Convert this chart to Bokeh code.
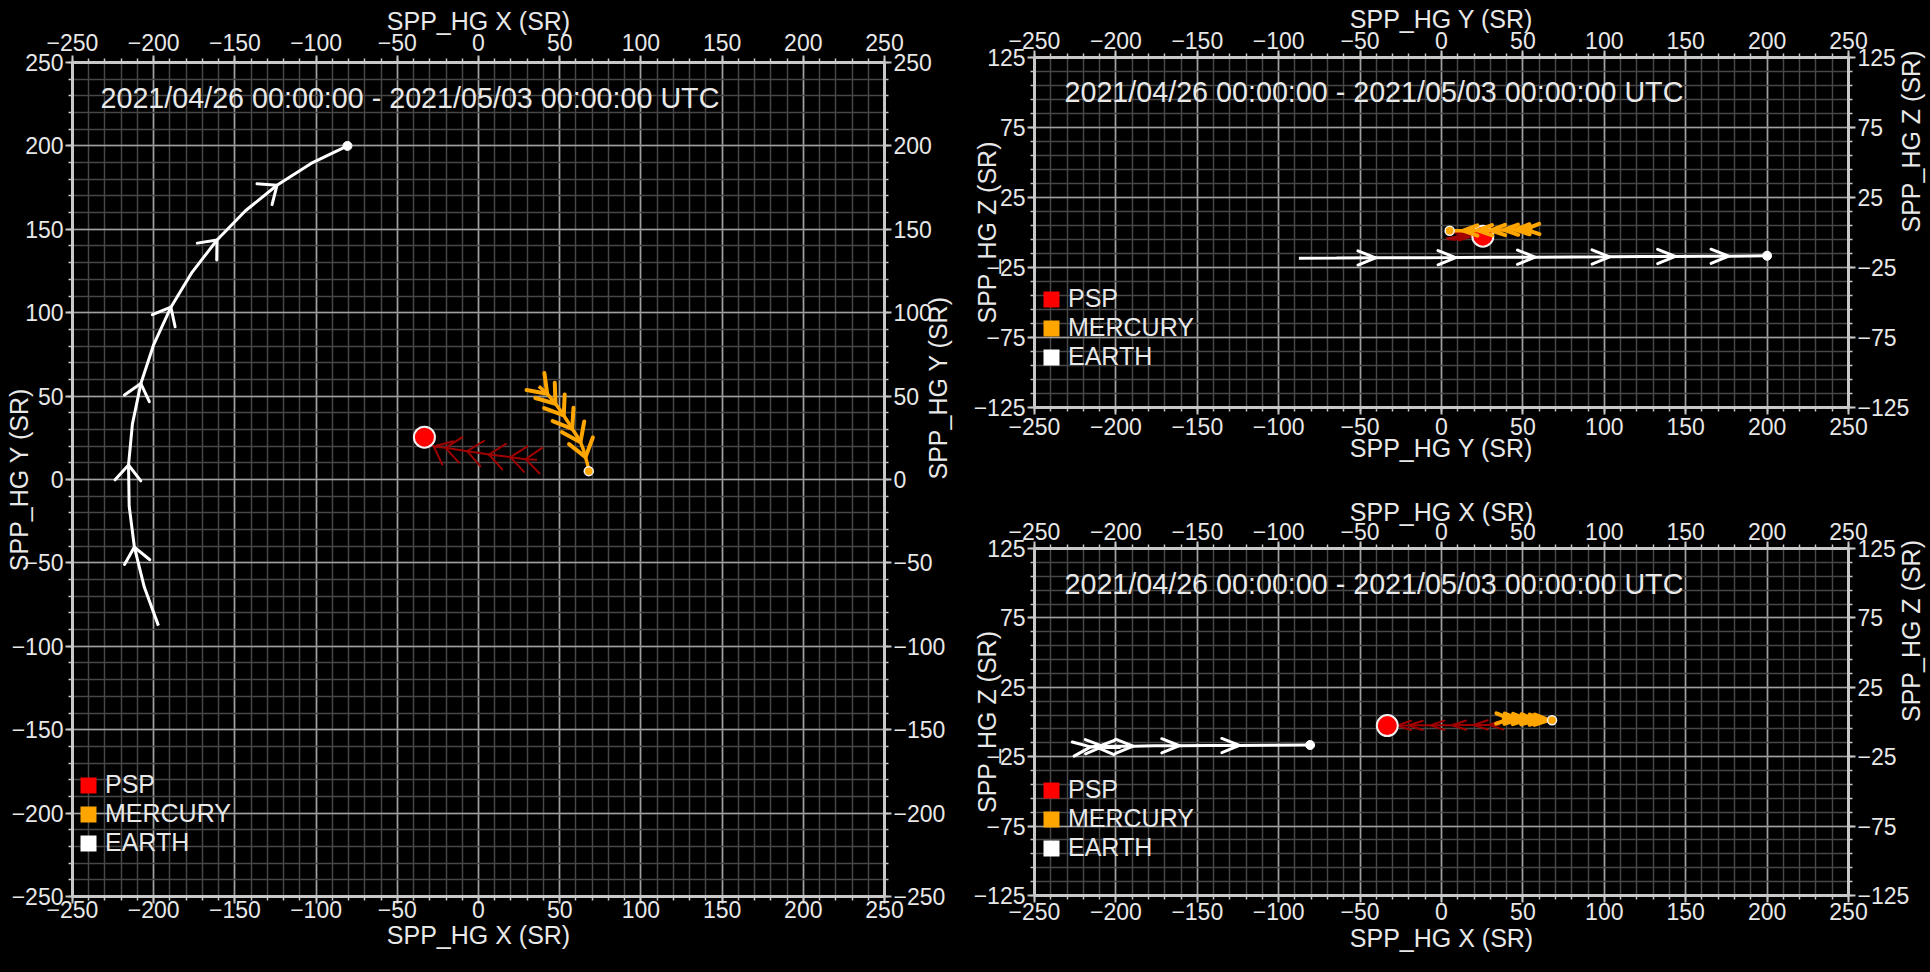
import math
from bokeh.plotting import figure
from bokeh.models import LinearAxis, FixedTicker, Label, Legend, LegendItem, Range1d
from bokeh.layouts import row, column
from bokeh.embed import file_html
from bokeh.resources import INLINE

# ---------------- data ----------------
HOURS = [0, 12, 24, 36, 48, 60, 72, 84, 96, 108, 120, 132, 144, 156, 168]

EARTH_X = [-197.1, -205.8, -211.9, -215.1, -215.5, -213.1, -207.9, -200.0,
           -189.4, -176.4, -161.0, -143.5, -124.1, -103.1, -80.7]
EARTH_Y = [-87.6, -64.5, -40.5, -16.0, 8.7, 33.3, 57.5, 80.9,
           103.3, 124.2, 143.6, 161.1, 176.4, 189.5, 200.0]
EARTH_Z = [-18.4, -18.3, -18.1, -18.0, -17.9, -17.7, -17.6, -17.5,
           -17.4, -17.2, -17.1, -17.0, -16.9, -16.7, -16.6]

PSP_X = [36.0, 32.5, 29.0, 24.4, 19.7, 13.0, 6.4, -0.3,
         -7.0, -13.7, -20.3, -24.0, -27.5, -30.6, -33.3]
PSP_Y = [11.8, 12.0, 12.2, 12.8, 13.4, 14.2, 15.0, 16.0,
         17.0, 18.0, 19.0, 19.4, 19.8, 22.4, 25.4]
PSP_Z = [-2.0, -2.0, -2.1, -2.1, -2.2, -2.2, -2.3, -2.3,
         -2.4, -2.4, -2.5, -2.5, -2.6, -2.6, -2.6]

MERCURY_X = [37.1, 39.6, 42.3, 44.8, 47.4, 50.0, 52.5, 55.1,
             57.7, 60.4, 62.8, 64.6, 65.9, 67.1, 67.9]
MERCURY_Y = [55.8, 53.8, 51.4, 48.5, 45.4, 42.0, 38.4, 34.5,
             30.4, 26.4, 22.4, 17.9, 13.4, 9.2, 5.0]
MERCURY_Z = [2.3, 2.3, 2.2, 2.1, 2.0, 1.9, 1.8, 1.7,
             1.6, 1.5, 1.5, 1.4, 1.3, 1.3, 1.2]

XY_TICKS = [-250, -200, -150, -100, -50, 0, 50, 100, 150, 200, 250]
Z_TICKS = [-125, -75, -25, 25, 75, 125]
TITLE = "2021/04/26 00:00:00 - 2021/05/03 00:00:00 UTC"
LEGEND_LABELS = ["PSP", "MERCURY", "EARTH"]
LEGEND_COLORS = ["#ff0000", "#ffa500", "#ffffff"]

BODIES = {
    "EARTH": {"X": EARTH_X, "Y": EARTH_Y, "Z": EARTH_Z},
    "PSP": {"X": PSP_X, "Y": PSP_Y, "Z": PSP_Z},
    "MERCURY": {"X": MERCURY_X, "Y": MERCURY_Y, "Z": MERCURY_Z},
}

# ---------------- style ----------------
FONT = "Liberation Sans"
TXT = "#e8e8e8"
AXC = "#c8c8c8"
PSP_TRACK = "#a00000"
NAN = float("nan")
ARROW_IDX = [i for i, h in enumerate(HOURS) if h % 24 == 0 and 0 < h < HOURS[-1]]


def chevrons(xs, ys, sx, sy, arm, half_deg):
    h = math.radians(half_deg)
    mx, my = [], []
    for i in ARROW_IDX:
        dx = (xs[i + 1] - xs[i - 1]) * sx
        dy = (ys[i + 1] - ys[i - 1]) * sy
        n = math.hypot(dx, dy)
        if n == 0:
            continue
        bx, by = -dx / n, -dy / n
        pts = []
        for a in (h, -h):
            c, s = math.cos(a), math.sin(a)
            ax_ = (bx * c - by * s) * arm
            ay_ = (bx * s + by * c) * arm
            pts.append((xs[i] + ax_ / sx, ys[i] + ay_ / sy))
        mx.append([pts[0][0], xs[i], pts[1][0]])
        my.append([pts[0][1], ys[i], pts[1][1]])
    return mx, my


def style_axis(ax, ticker, tick_standoff, label, label_standoff, orient=None):
    ax.ticker = ticker
    ax.axis_label = label
    ax.axis_label_text_font = FONT
    ax.axis_label_text_font_size = "25px"
    ax.axis_label_text_font_style = "normal"
    ax.axis_label_text_color = TXT
    ax.axis_label_standoff = label_standoff
    if orient is not None:
        ax.axis_label_orientation = orient
    ax.major_label_text_font = FONT
    ax.major_label_text_font_size = "23px"
    ax.major_label_text_color = TXT
    ax.major_label_standoff = tick_standoff
    ax.axis_line_color = AXC
    ax.axis_line_width = 3
    ax.major_tick_line_color = AXC
    ax.major_tick_line_width = 2
    ax.major_tick_out = 7
    ax.major_tick_in = 0
    ax.minor_tick_line_color = AXC
    ax.minor_tick_line_width = 1.5
    ax.minor_tick_out = 4
    ax.minor_tick_in = 0


def make_panel(xk, yk, xlabel, ylabel, yr, yticks, fw, fh, borders, title_off,
               legend_loc, chev, standoffs, label_standoffs):
    bl, br, bt, bb = borders
    p = figure(frame_width=fw, frame_height=fh,
               x_range=Range1d(-250, 250), y_range=Range1d(*yr),
               output_backend="svg", toolbar_location=None,
               background_fill_color="black", border_fill_color="black",
               outline_line_color=None,
               min_border_left=bl, min_border_right=br,
               min_border_top=bt, min_border_bottom=bb)
    sx = fw / 500.0
    sy = fh / float(yr[1] - yr[0])

    xt = FixedTicker(ticks=XY_TICKS, minor_ticks=list(range(-250, 251, 10)))
    yt = FixedTicker(ticks=yticks, minor_ticks=list(range(yr[0], yr[1] + 1, 10)))

    p.xgrid.ticker = xt
    p.ygrid.ticker = yt
    for g in (p.xgrid[0], p.ygrid[0]):
        g.grid_line_color = "#a0a0a0"
        g.grid_line_width = 1.6
        g.minor_grid_line_color = "#474747"
        g.minor_grid_line_width = 1.5

    lt, rt, at, bt_ = standoffs
    ls_l, ls_r, ls_a, ls_b = label_standoffs
    style_axis(p.xaxis[0], xt, bt_, xlabel, ls_b)
    style_axis(p.yaxis[0], yt, lt, ylabel, ls_l)
    top_ax = LinearAxis()
    style_axis(top_ax, xt, at, xlabel, ls_a)
    p.add_layout(top_ax, "above")
    right_ax = LinearAxis()
    style_axis(right_ax, yt, rt, ylabel, ls_r, orient=math.pi / 2)
    p.add_layout(right_ax, "right")

    (e_arm, e_half), (p_arm, p_half), (m_arm, m_half) = chev

    ex, ey = BODIES["EARTH"][xk], BODIES["EARTH"][yk]
    p.line(ex, ey, line_color="white", line_width=3)
    cx, cy = chevrons(ex, ey, sx, sy, e_arm, e_half)
    p.multi_line(cx, cy, line_color="white", line_width=3, line_cap="round", line_join="round")
    p.scatter([ex[-1]], [ey[-1]], size=9, fill_color="white", line_color="white")

    px, py = BODIES["PSP"][xk], BODIES["PSP"][yk]
    p.line(px, py, line_color=PSP_TRACK, line_width=2)
    cx, cy = chevrons(px, py, sx, sy, p_arm, p_half)
    p.multi_line(cx, cy, line_color=PSP_TRACK, line_width=2, line_cap="round")
    p.scatter([px[-1]], [py[-1]], size=21, fill_color="#ff0000", line_color="#f0f0f0", line_width=2)

    mx, my = BODIES["MERCURY"][xk], BODIES["MERCURY"][yk]
    p.line(mx, my, line_color="#ffa500", line_width=3.5)
    cx, cy = chevrons(mx, my, sx, sy, m_arm, m_half)
    p.multi_line(cx, cy, line_color="#ffa500", line_width=4, line_cap="round", line_join="round")
    p.scatter([mx[-1]], [my[-1]], size=9, fill_color="#ffa500", line_color="#f0f0f0", line_width=1.5)

    p.add_layout(Label(x=title_off[0], y=fh - title_off[1], x_units="screen", y_units="screen",
                       text=TITLE, text_font=FONT, text_font_size="28.7px",
                       text_color=TXT, text_baseline="middle"))

    items = []
    for lab, col in zip(LEGEND_LABELS, LEGEND_COLORS):
        r = p.quad(left=[NAN], right=[NAN], top=[NAN], bottom=[NAN],
                   fill_color=col, line_color=None)
        items.append(LegendItem(label=lab, renderers=[r]))
    leg = Legend(items=items, location=legend_loc, background_fill_alpha=0,
                 border_line_alpha=0, padding=0, margin=0, spacing=0,
                 glyph_width=20, glyph_height=20, label_standoff=7,
                 label_text_font=FONT, label_text_font_size="25px",
                 label_text_color=TXT, label_height=28)
    p.add_layout(leg)
    return p


left = make_panel("X", "Y", "SPP_HG X (SR)", "SPP_HG Y (SR)", (-250, 250), XY_TICKS,
                  812, 834, (72, 83, 62, 76), (28, 35), (6, 39),
                  ((20, 40), (20, 40), (21, 36)),
                  (2, 2, 5, -3), (-24, -10, -4, 0))
top_right = make_panel("Y", "Z", "SPP_HG Y (SR)", "SPP_HG Z (SR)", (-125, 125), Z_TICKS,
                       814, 350, (64, 81, 57, 84), (30, 34), (7, 36),
                       ((19, 22), (15, 18), (15, 20)),
                       (2, 2, 2, 3), (-30, -1, -4, -4))
bottom_right = make_panel("X", "Z", "SPP_HG X (SR)", "SPP_HG Z (SR)", (-125, 125), Z_TICKS,
                          814, 347, (64, 81, 57, 77), (30, 35), (7, 33),
                          ((19, 22), (15, 18), (15, 20)),
                          (2, 2, 2, 0), (-30, -1, -6, 1))

layout = row(left, column(top_right, bottom_right))
layout.styles = {"background-color": "black"}

open("out.html", "w").write(file_html(layout, INLINE))
